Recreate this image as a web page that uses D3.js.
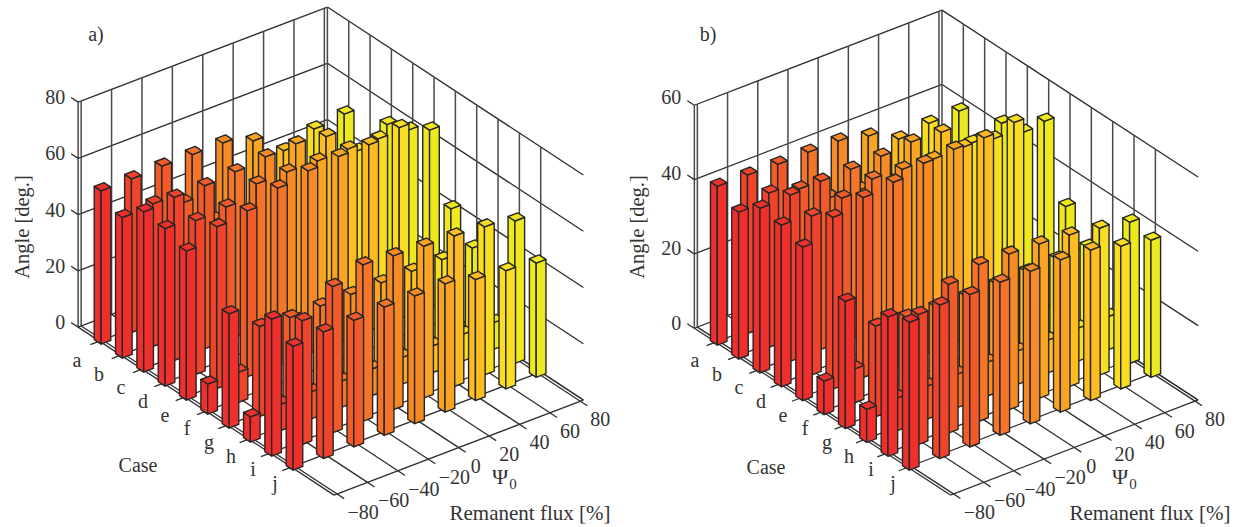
<!DOCTYPE html>
<html>
<head>
<meta charset="utf-8">
<script src="https://cdn.jsdelivr.net/npm/d3@7"></script>
<style>
  html, body { margin: 0; padding: 0; background: #fff; }
  svg { display: block; }
  text { font-family: "Liberation Serif", serif; fill: #333; }
</style>
</head>
<body>
<script>
const width = 1241;
const height = 527;

const cases = ["a", "b", "c", "d", "e", "f", "g", "h", "i", "j"];
const fluxTicks = [-80, -60, -40, -20, 0, 20, 40, 60, 80];

// rows are cases a..j, columns are flux -80..80
const anglesA = [
  [54.5, 54.6, 55, 55, 55, 51.6, 44, 47.6, 48.8],
  [50, 50.7, 47, 36.7, 35, 34, 34, 36, 38],
  [57, 58, 58, 58.8, 60, 60.5, 59, 49.7, 55],
  [56, 54.7, 55.4, 59.5, 59.6, 59.4, 59.5, 59, 58],
  [53, 57.5, 59, 63, 65, 66, 66, 68, 63],
  [10.7, 10.7, 11, 11, 11, 11, 11, 12, 40],
  [40.6, 32, 31, 31, 31, 31, 31, 31, 31],
  [9, 9.3, 9.6, 9.3, 9.5, 9.5, 9.5, 9.5, 9.5],
  [48.7, 44, 52, 55.6, 54.7, 54, 53.5, 52.6, 50.6],
  [44, 45, 45, 45.6, 45.4, 45.6, 43, 42, 40.6]
];
const anglesB = [
  [42.7, 42.6, 42.4, 42.5, 42.4, 40.6, 36.7, 37.8, 38],
  [39.5, 41.5, 39.5, 34, 33, 32, 32, 33, 34],
  [44.3, 44.7, 45.3, 45.4, 45.8, 46.5, 46, 40, 42.2],
  [43.5, 42.8, 44.5, 46.5, 46, 45.6, 45.7, 44.8, 43.5],
  [41.3, 46.2, 48.4, 49.4, 51.4, 52, 52, 53, 50.2],
  [9, 9.1, 9, 9, 9, 9, 9, 10, 31],
  [34.2, 24.4, 23.7, 23.3, 23, 23.2, 23.4, 23.7, 23.8],
  [8.9, 8.8, 8.9, 9, 9.1, 9, 8.8, 8.9, 8.9],
  [37.5, 35, 40, 42.2, 41.9, 41.5, 40.8, 39.5, 38],
  [39.8, 41.3, 41, 41.2, 41, 41, 40.5, 38.4, 36.9]
];
const zTicksA = [0, 20, 40, 60, 80];
const zTicksB = [0, 20, 40, 60];

const fluxColor = d3.scaleLinear()
  .domain(fluxTicks)
  .range(["#ee2f2c", "#f0432b", "#f15a29", "#f4742a", "#f68b25", "#f9a423", "#fdbc20", "#f9dd22", "#eee91f"]);

const svg = d3.select("body").append("svg")
  .attr("width", width)
  .attr("height", height);

const fluxLim = [-82, 82];
const caseLim = [0, 12];
const lineColor = "#2e2e2e";

function drawPanel(cfg) {
  const g = svg.append("g");

  // screen offsets along each of the three data axes
  const fx = d3.scaleLinear().domain([-80, 80]).range([0, 8 * cfg.ux]);
  const fy = d3.scaleLinear().domain([-80, 80]).range([0, 8 * cfg.uy]);
  const cx = d3.scaleLinear().domain([1, 10]).range([0, 9 * cfg.vx]);
  const cy = d3.scaleLinear().domain([1, 10]).range([0, 9 * cfg.vy]);
  const zs = d3.scaleLinear().domain([0, d3.max(cfg.zTicks)]).range([0, cfg.zHeight]);

  const project = (f, c, z) => [
    cfg.ox + fx(f) + cx(c),
    cfg.oy + fy(f) + cy(c) - zs(z)
  ];
  const seg = (a, b, stroke, w) => g.append("line")
    .attr("x1", a[0]).attr("y1", a[1])
    .attr("x2", b[0]).attr("y2", b[1])
    .attr("stroke", stroke || lineColor)
    .attr("stroke-width", w || 1.3);

  const zMax = d3.max(cfg.zTicks);

  // walls
  cfg.zTicks.forEach(function (z) {
    seg(project(fluxLim[0], caseLim[0], z), project(fluxLim[1], caseLim[0], z));
    seg(project(fluxLim[1], caseLim[0], z), project(fluxLim[1], caseLim[1], z));
  });
  fluxTicks.forEach(function (f) {
    seg(project(f, caseLim[0], 0), project(f, caseLim[0], zMax), "#4a4a4a", 1.5);
  });
  cases.forEach(function (c, i) {
    seg(project(fluxLim[1], i + 1, 0), project(fluxLim[1], i + 1, zMax), "#4a4a4a", 1.5);
  });
  seg(project(fluxLim[0], caseLim[0], 0), project(fluxLim[0], caseLim[0], zMax), "#4a4a4a", 1.5);
  seg(project(fluxLim[1], caseLim[0], 0), project(fluxLim[1], caseLim[0], zMax), "#4a4a4a", 1.5);

  // floor
  fluxTicks.forEach(function (f) {
    seg(project(f, caseLim[0], 0), project(f, caseLim[1], 0));
  });
  cases.forEach(function (c, i) {
    seg(project(fluxLim[0], i + 1, 0), project(fluxLim[1], i + 1, 0));
  });
  seg(project(fluxLim[0], caseLim[0], 0), project(fluxLim[0], caseLim[1], 0));
  seg(project(fluxLim[0], caseLim[1], 0), project(fluxLim[1], caseLim[1], 0));
  seg(project(fluxLim[1], caseLim[0], 0), project(fluxLim[1], caseLim[1], 0));

  // ticks
  cfg.zTicks.forEach(function (z) {
    seg(project(fluxLim[0], caseLim[0], z), project(fluxLim[0], caseLim[0] - 0.33, z));
  });
  cases.forEach(function (c, i) {
    seg(project(fluxLim[0], i + 1, 0), project(fluxLim[0] - 6, i + 1, 0));
  });
  fluxTicks.forEach(function (f) {
    seg(project(f, caseLim[1], 0), project(f, caseLim[1] + 0.33, 0));
  });

  // bars, far corner first so nearer ones paint over
  const hw = 3.2;
  const hd = 0.16;
  const poly = d3.line();
  const bars = [];
  cases.forEach(function (c, j) {
    for (let i = fluxTicks.length - 1; i >= 0; i--) {
      bars.push({ flux: fluxTicks[i], pos: j + 1, value: cfg.angles[j][i] });
    }
  });
  const bar = g.selectAll("g.bar").data(bars).enter().append("g").attr("class", "bar")
    .attr("fill", d => fluxColor(d.flux))
    .attr("stroke", "#262626")
    .attr("stroke-width", 1.4)
    .attr("stroke-linejoin", "round");
  bar.append("path").attr("d", d => poly([
    project(d.flux - hw, d.pos - hd, 0), project(d.flux - hw, d.pos + hd, 0),
    project(d.flux - hw, d.pos + hd, d.value), project(d.flux - hw, d.pos - hd, d.value)
  ]) + "Z");
  bar.append("path").attr("d", d => poly([
    project(d.flux - hw, d.pos + hd, 0), project(d.flux + hw, d.pos + hd, 0),
    project(d.flux + hw, d.pos + hd, d.value), project(d.flux - hw, d.pos + hd, d.value)
  ]) + "Z");
  bar.append("path").attr("d", d => poly([
    project(d.flux - hw, d.pos - hd, d.value), project(d.flux - hw, d.pos + hd, d.value),
    project(d.flux + hw, d.pos + hd, d.value), project(d.flux + hw, d.pos - hd, d.value)
  ]) + "Z");

  // text
  const label = (x, y, s, size, anchor) => g.append("text")
    .attr("x", x).attr("y", y)
    .attr("font-size", size || 20)
    .attr("text-anchor", anchor || "middle")
    .text(s);

  cfg.zTicks.forEach(function (z) {
    const p = project(fluxLim[0], caseLim[0], z);
    label(p[0] - 13, p[1] + 2 - cfg.zLabelLift * z / zMax, z, 20, "end");
  });
  const caseLabelX = d3.scalePoint().domain(cases).range([cfg.dx + 77, cfg.dx + 275]);
  const caseLabelY = d3.scalePoint().domain(cases).range([367, 490]);
  cases.forEach(c => label(caseLabelX(c), caseLabelY(c), c));

  fluxTicks.forEach(function (f) {
    const p = project(f, caseLim[1], 0);
    const shift = f < 0 ? 26 : (f === 0 ? 17 : 20);
    label(p[0] + shift, p[1] + 25, f < 0 ? "\u2212" + Math.abs(f) : f);
  });

  label(cfg.tagX, 41, cfg.tag);
  label(cfg.caseX, cfg.caseY, "Case");
  label(cfg.psiX, 484, "\u03a8", 22);
  label(cfg.psiX + 13, 489, "0", 15);
  label(cfg.remX, 520, "Remanent flux [%]", 21);
  g.append("text")
    .attr("transform", "translate(" + cfg.angleX + ",227) rotate(-90)")
    .attr("text-anchor", "middle")
    .attr("font-size", 20.5)
    .text("Angle [deg.]");
}

drawPanel({
  tag: "a)", dx: 0, ox: 102.5, oy: 340, ux: 30.4, uy: -11.6, vx: 21.33, vy: 14,
  zHeight: 225, zTicks: zTicksA, angles: anglesA, zLabelLift: 0,
  tagX: 96, caseX: 138, caseY: 472, psiX: 500, remX: 530, angleX: 29
});
drawPanel({
  tag: "b)", dx: 618, ox: 718.7, oy: 341, ux: 30.2, uy: -11.6, vx: 21.34, vy: 13.9,
  zHeight: 223, zTicks: zTicksB, angles: anglesB, zLabelLift: 3,
  tagX: 708, caseX: 766, caseY: 474, psiX: 1120, remX: 1150, angleX: 644
});
</script>
</body>
</html>
